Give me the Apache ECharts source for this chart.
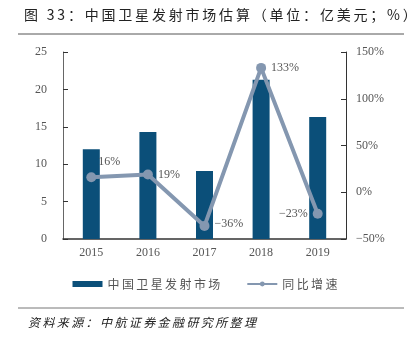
<!DOCTYPE html>
<html><head><meta charset="utf-8">
<script src="https://cdn.jsdelivr.net/npm/echarts@6/dist/echarts.min.js"></script>
<style>html,body{margin:0;padding:0;background:#fff}#c{width:410px;height:337px}</style>
</head><body><div id="c"></div>
<script>
const categories = ['2015','2016','2017','2018','2019'];
const marketValues = [12.0, 14.3, 9.1, 21.3, 16.3];
const growthValues = [16, 19, -36, 133, -23];
const growthLabels = ['16%','19%','−36%','133%','−23%'];
const leftTicks = [0, 25, 5];
const rightTicks = [-50, 150, 50];

const serif = '"Liberation Serif","DejaVu Serif",serif';
const cjk = '"Noto Sans CJK SC",sans-serif';
const spaced = (s, sp) => s.split('').join(sp);
const labelPos = [
  {position:'right', offset:[-3,-15]},
  {position:'right', offset:[0,0]},
  {position:'right', offset:[0,-2]},
  {position:'right', offset:[0,0]},
  {position:'left', offset:[0,0]}
];
const chart = echarts.init(document.getElementById('c'));
chart.setOption({
  animation:false,
  graphic:[
    {type:'text', left:24, top:8, style:{text:spaced('图 33：中国卫星发射市场估算（单位：亿美元；%）','\u2009'), font:'14px '+cjk, fill:'#222'}},
    {type:'line', shape:{x1:18,y1:34,x2:404,y2:34}, style:{stroke:'#555', lineWidth:1}},
    {type:'line', shape:{x1:18,y1:308,x2:404,y2:308}, style:{stroke:'#777', lineWidth:1}},
    {type:'text', left:28, top:316, style:{text:spaced('资料来源：中航证券金融研究所整理','\u2009'), font:'italic 12px '+cjk, fill:'#222'}}
  ],
  grid:{left:63, right:64, top:52, bottom:98},
  legend:{
    bottom:42, left:'center', itemGap:26, itemWidth:30, itemHeight:6,
    textStyle:{fontFamily:cjk, fontSize:12, color:'#555'},
    formatter: n => spaced(n, '\u2009'),
    data:[{name:'中国卫星发射市场', icon:'rect'}, {name:'同比增速'}]
  },
  xAxis:{
    type:'category', data:categories,
    axisLine:{lineStyle:{color:'#333', width:1.5}},
    axisTick:{show:false},
    axisLabel:{fontFamily:serif, fontSize:12, color:'#555', margin:8}
  },
  yAxis:[
    {type:'value', min:leftTicks[0], max:leftTicks[1], interval:leftTicks[2],
     axisLine:{show:true, lineStyle:{color:'#666'}},
     axisTick:{show:true, inside:true, length:5, lineStyle:{color:'#333'}},
     splitLine:{show:false},
     axisLabel:{fontFamily:serif, fontSize:12, color:'#555', margin:16}},
    {type:'value', min:rightTicks[0], max:rightTicks[1], interval:rightTicks[2],
     axisLine:{show:true, lineStyle:{color:'#333'}},
     axisTick:{show:true, inside:true, length:5, lineStyle:{color:'#333'}},
     splitLine:{show:false},
     axisLabel:{fontFamily:serif, fontSize:12, color:'#555', margin:10, formatter:v=>(v<0?'−'+(-v):v)+'%'}}
  ],
  series:[
    {name:'中国卫星发射市场', type:'bar', data:marketValues, barWidth:17,
     itemStyle:{color:'#0b4f79'}},
    {name:'同比增速', type:'line', yAxisIndex:1, symbol:'circle', symbolSize:10,
     data:growthValues.map((v,i)=>({value:v, label:Object.assign({show:true, formatter:growthLabels[i]}, labelPos[i])})),
     lineStyle:{color:'#8497b0', width:4}, itemStyle:{color:'#8497b0'},
     label:{fontFamily:serif, fontSize:12, color:'#555'}}
  ]
});
</script></body></html>
